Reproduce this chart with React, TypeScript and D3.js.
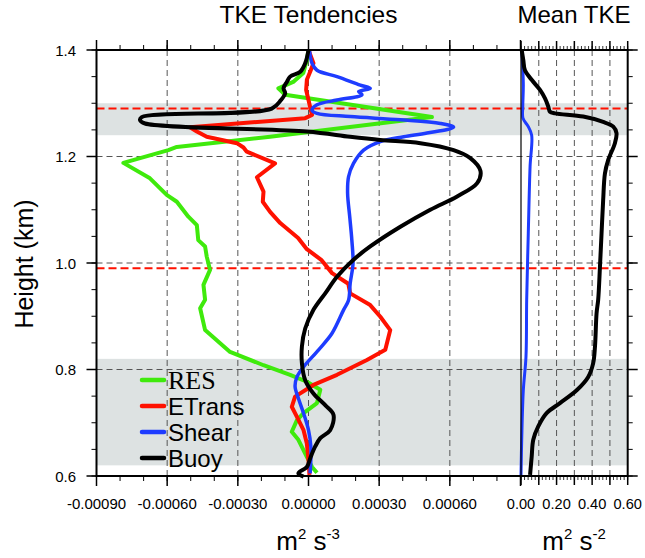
import React from "react";
import * as d3 from "d3";

// ---------- data ----------
const seriesNames = ["RES", "ETrans", "Shear", "Buoy"];
const seriesColors = ["#3fea0c", "#ff1100", "#1e3cff", "#000000"];

// [height km, tendency m2 s-3]
const resData: [number, number][] = [
  [1.4, 0], [1.381, -0.000007], [1.357, -0.000022], [1.34, -0.000065], [1.328, -0.000128],
  [1.316, -0.000099], [1.274, 0.000524], [1.237, -0.000163], [1.218, -0.000559], [1.212, -0.000595],
  [1.188, -0.000786], [1.159, -0.000673], [1.128, -0.000602], [1.115, -0.000559], [1.087, -0.00051],
  [1.071, -0.000474], [1.043, -0.000468], [1.031, -0.000439], [1.012, -0.000432], [0.987, -0.000418],
  [0.959, -0.000446], [0.931, -0.000439], [0.915, -0.00046], [0.874, -0.000439], [0.833, -0.000333],
  [0.808, -0.000191], [0.79, -0.000078], [0.777, -0.000007], [0.762, 0.00005], [0.737, 0.000036],
  [0.718, -0.000021], [0.705, -0.000049], [0.683, -0.000071], [0.668, -0.000043], [0.636, -0.000007],
  [0.617, 0.000015], [0.606, 0.000036],
];
const etransData: [number, number][] = [
  [1.4, 0], [1.375, 0.000021], [1.359, 0.000007], [1.344, -0.000007], [1.325, -0.00001],
  [1.306, 0], [1.287, 0.00001], [1.278, 0.000015], [1.272, -0.000014], [1.255, -0.000503],
  [1.247, -0.000474], [1.237, -0.000432], [1.225, -0.000304], [1.217, -0.000276], [1.209, -0.000262],
  [1.187, -0.000142], [1.161, -0.000219], [1.134, -0.000191], [1.115, -0.000194], [1.096, -0.000163],
  [1.075, -0.00012], [1.047, -0.000044], [1.026, -0.000007], [1.006, 0.000054], [0.981, 0.0001],
  [0.961, 0.000169], [0.943, 0.000177], [0.921, 0.000262], [0.899, 0.000305], [0.874, 0.000347],
  [0.837, 0.000326], [0.818, 0.000248], [0.79, 0.000121], [0.771, 0.000021], [0.749, -0.000057],
  [0.73, -0.000071], [0.711, -0.000049], [0.686, -0.000021], [0.661, -0.000007], [0.63, 0],
  [0.602, 0.000004],
];
const shearData: [number, number][] = [
  [1.4, 0.000004], [1.375, 0.000015], [1.362, 0.000036], [1.35, 0.000121], [1.334, 0.00022],
  [1.328, 0.000262], [1.322, 0.000213], [1.316, 0.000227], [1.306, 0.000121], [1.297, 0.000036],
  [1.287, 0.000015], [1.281, 0.000036], [1.275, 0.000177], [1.269, 0.00039], [1.262, 0.00056],
  [1.255, 0.000616], [1.244, 0.000503], [1.237, 0.000404], [1.228, 0.000305], [1.212, 0.000234],
  [1.187, 0.000191], [1.162, 0.00017], [1.131, 0.000166], [1.087, 0.000175], [1.043, 0.000184],
  [0.999, 0.000189], [0.962, 0.000177], [0.93, 0.00017], [0.912, 0.000149], [0.868, 0.0001],
  [0.837, 0.000043], [0.805, -0.000021], [0.786, -0.000049], [0.768, -0.000057], [0.746, -0.000043],
  [0.718, -0.000021], [0.686, 0], [0.655, 0.00001], [0.605, 0.000007],
];
const buoyData: [number, number][] = [
  [1.4, 0], [1.375, -0.000014], [1.359, -0.000035], [1.35, -0.000078], [1.34, -0.000092],
  [1.328, -0.000106], [1.319, -0.000099], [1.306, -0.000117], [1.29, -0.000156], [1.274, -0.000708],
  [1.268, -0.000715], [1.262, -0.000694], [1.247, -0.000007], [1.237, 0.000177], [1.231, 0.000305],
  [1.225, 0.000475], [1.212, 0.000616], [1.197, 0.000687], [1.173, 0.00073], [1.15, 0.000716],
  [1.125, 0.000631], [1.1, 0.000517], [1.068, 0.00039], [1.031, 0.000262], [1.006, 0.000191],
  [0.974, 0.000121], [0.943, 0.000071], [0.912, 0.000021], [0.877, -0.000014], [0.843, -0.000028],
  [0.812, -0.000028], [0.78, -0.000014], [0.755, 0.000021], [0.733, 0.000071], [0.715, 0.000106],
  [0.686, 0.000092], [0.671, 0.00005], [0.655, 0.000028], [0.633, 0.000007], [0.617, -0.000007],
  [0.605, -0.000043], [0.599, -0.000021],
];
// [height km, mean TKE m2 s-2]
const tkeBlack: [number, number][] = [
  [1.4, 0.004], [1.381, 0.013], [1.362, 0.022], [1.344, 0.06], [1.325, 0.107], [1.309, 0.135],
  [1.294, 0.153], [1.284, 0.163], [1.281, 0.191], [1.275, 0.35], [1.265, 0.462], [1.256, 0.519],
  [1.244, 0.537], [1.225, 0.528], [1.193, 0.49], [1.168, 0.472], [1.118, 0.462], [1.056, 0.453],
  [0.993, 0.444], [0.931, 0.434], [0.906, 0.425], [0.843, 0.416], [0.812, 0.406], [0.786, 0.378],
  [0.761, 0.313], [0.737, 0.219], [0.718, 0.144], [0.693, 0.097], [0.668, 0.069], [0.636, 0.06],
  [0.602, 0.051],
];
const tkeBlue: [number, number][] = [
  [1.4, 0.004], [1.337, 0.013], [1.294, 0.01], [1.272, 0.011], [1.256, 0.041], [1.24, 0.06],
  [1.181, 0.051], [1.056, 0.041], [0.931, 0.032], [0.824, 0.028], [0.761, 0.013], [0.668, 0.004],
  [0.602, 0.0],
];

const leftTickLabels = ["-0.00090", "-0.00060", "-0.00030", "0.00000", "0.00030", "0.00060"];
const rightTickLabels = ["0.00", "0.20", "0.40", "0.60"];
const heightTicks = [0.6, 0.8, 1.0, 1.2, 1.4];
const shadedBands: [number, number][] = [[1.24, 1.3], [0.62, 0.82]];
const redDashedHeights = [1.29, 0.99];

// ---------- layout ----------
const W = 645, H = 558;
const FONT = "'Liberation Sans', Arial, Helvetica, sans-serif";

export default function App() {
  const y = d3.scaleLinear().domain([0.6, 1.4]).range([476, 50]);
  const xL = d3.scaleLinear().domain([-0.0009, 0.0009]).range([96.5, 520.5]);
  const xR = d3.scaleLinear().domain([0, 0.6]).range([521, 627.7]);
  const x0 = xL.range()[0], x1 = xR.range()[1];
  const yTop = y(1.4), yBot = y(0.6);

  const lineL = d3.line<[number, number]>().x((d) => xL(d[1])).y((d) => y(d[0]));
  const lineLs = d3.line<[number, number]>().x((d) => xL(d[1])).y((d) => y(d[0])).curve(d3.curveCatmullRom.alpha(0.5));
  const lineR = d3.line<[number, number]>().x((d) => xR(d[1])).y((d) => y(d[0])).curve(d3.curveCatmullRom.alpha(0.5));

  const leftSeries = [resData, etransData, shearData, buoyData];

  const leftMinor = d3.range(-9, 10).map((i) => i * 0.0001);
  const leftMajor = d3.range(-3, 4).map((i) => i * 0.0003);
  const rightMinor = d3.range(0, 31).map((i) => i * 0.02);
  const rightMajor = d3.range(0, 7).map((i) => i * 0.1);
  const yMinor = d3.range(0, 17).map((i) => 0.6 + i * 0.05);

  const grey = "#555";
  return (
    <svg width={W} height={H} style={{ position: "absolute", left: 0, top: 0, background: "#fff" }}>
      {shadedBands.map((b, i) => (
        <rect key={i} x={x0} y={y(b[1])} width={x1 - x0} height={y(b[0]) - y(b[1])} fill="#dde2e2" />
      ))}
      {[0.8, 1.0, 1.2].map((h) => (
        <line key={h} x1={x0} x2={x1} y1={y(h)} y2={y(h)} stroke={grey} strokeWidth={1} strokeDasharray="6,4" />
      ))}
      {[-0.0006, -0.0003, 0, 0.0003, 0.0006].map((v) => (
        <line key={v} x1={xL(v)} x2={xL(v)} y1={yTop} y2={yBot} stroke={grey} strokeWidth={1} strokeDasharray="6,4" />
      ))}
      {[0.1, 0.2, 0.3, 0.4, 0.5].map((v) => (
        <line key={v} x1={xR(v)} x2={xR(v)} y1={yTop} y2={yBot} stroke={grey} strokeWidth={1} strokeDasharray="6,4" />
      ))}
      {redDashedHeights.map((h) => (
        <line key={h} x1={x0} x2={x1} y1={y(h)} y2={y(h)} stroke="#ff1100" strokeWidth={2} strokeDasharray="8,4" />
      ))}
      {leftSeries.map((s, i) => (
        <path key={i} d={(i >= 2 ? lineLs(s) : lineL(s)) || ""} fill="none" stroke={seriesColors[i]} strokeWidth={i === 2 ? 3.5 : 4} strokeLinejoin="round" />
      ))}
      <path d={lineR(tkeBlue) || ""} fill="none" stroke="#1e3cff" strokeWidth={3} strokeLinejoin="round" />
      <path d={lineR(tkeBlack) || ""} fill="none" stroke="#000" strokeWidth={4} strokeLinejoin="round" />

      <line x1={xR(0)} x2={xR(0)} y1={yTop} y2={yBot} stroke="#000" strokeWidth={1.2} />
      <line x1={x0} x2={x1} y1={yTop} y2={yTop} stroke="#000" strokeWidth={2} />
      <line x1={x0} x2={x1} y1={yBot} y2={yBot} stroke="#000" strokeWidth={2} />
      <line x1={x0} x2={x0} y1={yTop - 1} y2={yBot + 1} stroke="#000" strokeWidth={2} />
      <line x1={x1} x2={x1} y1={yTop - 1} y2={yBot + 1} stroke="#000" strokeWidth={2} />

      {leftMinor.map((v, i) => (
        <g key={"lm" + i}>
          <line x1={xL(v)} x2={xL(v)} y1={yTop} y2={yTop - 5} stroke="#000" strokeWidth={1} />
          <line x1={xL(v)} x2={xL(v)} y1={yBot} y2={yBot + 5} stroke="#000" strokeWidth={1} />
        </g>
      ))}
      {leftMajor.map((v, i) => (
        <g key={"lM" + i}>
          <line x1={xL(v)} x2={xL(v)} y1={yTop} y2={yTop - 10} stroke="#000" strokeWidth={1.5} />
          <line x1={xL(v)} x2={xL(v)} y1={yBot} y2={yBot + 10} stroke="#000" strokeWidth={1.5} />
        </g>
      ))}
      {rightMinor.map((v, i) => (
        <g key={"rm" + i}>
          <line x1={xR(v)} x2={xR(v)} y1={yTop} y2={yTop - 4} stroke="#000" strokeWidth={0.8} />
          <line x1={xR(v)} x2={xR(v)} y1={yBot} y2={yBot + 4} stroke="#000" strokeWidth={0.8} />
        </g>
      ))}
      {rightMajor.map((v, i) => (
        <g key={"rM" + i}>
          <line x1={xR(v)} x2={xR(v)} y1={yTop} y2={yTop - 9} stroke="#000" strokeWidth={1.5} />
          <line x1={xR(v)} x2={xR(v)} y1={yBot} y2={yBot + 9} stroke="#000" strokeWidth={1.5} />
        </g>
      ))}
      {yMinor.map((h, i) => (
        <g key={"ym" + i}>
          <line x1={x0} x2={x0 - 5} y1={y(h)} y2={y(h)} stroke="#000" strokeWidth={1} />
          <line x1={x1} x2={x1 + 5} y1={y(h)} y2={y(h)} stroke="#000" strokeWidth={1} />
        </g>
      ))}
      {heightTicks.map((h) => (
        <g key={"yM" + h}>
          <line x1={x0} x2={x0 - 10} y1={y(h)} y2={y(h)} stroke="#000" strokeWidth={1.5} />
          <line x1={x1} x2={x1 + 10} y1={y(h)} y2={y(h)} stroke="#000" strokeWidth={1.5} />
          <text x={76} y={y(h) + 5.5} textAnchor="end" fontFamily={FONT} fontSize={15}>{h.toFixed(1)}</text>
        </g>
      ))}
      {leftTickLabels.map((t, i) => (
        <text key={t} x={xL(-0.0009 + i * 0.0003)} y={508.5} textAnchor="middle" fontFamily={FONT} fontSize={15}>{t}</text>
      ))}
      {rightTickLabels.map((t, i) => (
        <text key={t} x={xR(i * 0.2)} y={508.5} textAnchor="middle" fontFamily={FONT} fontSize={14.6}>{t}</text>
      ))}

      <text x={308.5} y={22.5} textAnchor="middle" fontFamily={FONT} fontSize={24.5}>TKE Tendencies</text>
      <text x={574} y={22.7} textAnchor="middle" fontFamily={FONT} fontSize={24}>Mean TKE</text>
      <text transform="translate(33,264) rotate(-90)" textAnchor="middle" fontFamily={FONT} fontSize={25}>Height (km)</text>

      <text x={308} y={550} textAnchor="middle" fontFamily={FONT} fontSize={26}>
        m<tspan fontSize={15} dy={-11}>2</tspan><tspan dy={11}> s</tspan><tspan fontSize={15} dy={-11}>-3</tspan>
      </text>
      <text x={574} y={550} textAnchor="middle" fontFamily={FONT} fontSize={26}>
        m<tspan fontSize={15} dy={-11}>2</tspan><tspan dy={11}> s</tspan><tspan fontSize={15} dy={-11}>-2</tspan>
      </text>

      {seriesNames.map((n, i) => {
        const ly = 380 + i * 26;
        return (
          <g key={n}>
            <line x1={142} x2={164} y1={ly} y2={ly} stroke={seriesColors[i]} strokeWidth={4.5} strokeLinecap="round" />
            <text x={168} y={ly + 8.5} fontFamily={i === 0 ? "'Liberation Serif', 'Times New Roman', serif" : FONT} fontSize={i === 0 ? 26 : 24}>{n}</text>
          </g>
        );
      })}
    </svg>
  );
}
